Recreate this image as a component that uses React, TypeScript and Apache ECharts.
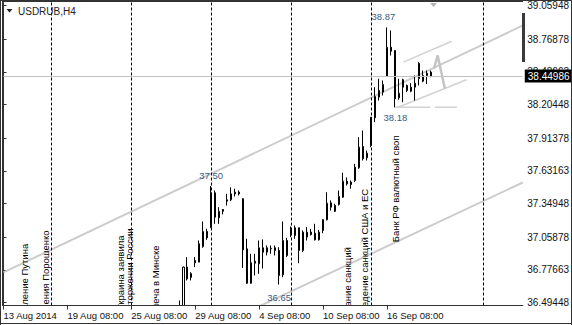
import React, { useEffect, useRef } from 'react';
import * as echarts from 'echarts';

// ---- data ----
const FIRST_BAR = 44;
const opens = [36.38, 36.42, 36.8, 36.711, 36.857, 36.843, 36.978, 37.108, 37.14, 37.442, 37.226, 37.298, 37.37, 37.382, 37.447, 37.447, 37.39, 36.958, 36.661, 36.851, 36.829, 36.967, 36.929, 36.958, 36.967, 36.944, 36.734, 37.03, 37.122, 37.073, 37.14, 36.944, 37.059, 37.102, 37.093, 37.036, 37.117, 37.209, 37.355, 37.332, 37.341, 37.404, 37.542, 37.534, 37.548, 37.658, 37.842, 37.744, 37.851, 38.09, 38.268, 38.311, 38.446, 38.699, 38.671, 38.262, 38.418, 38.369, 38.319, 38.354, 38.559, 38.406, 38.455, 38.484];
const closes = [36.42, 36.8, 36.699, 36.745, 36.838, 37.002, 37.108, 37.053, 37.442, 37.231, 37.281, 37.283, 37.382, 37.433, 37.433, 37.433, 36.95, 36.661, 36.838, 36.834, 36.967, 36.929, 36.967, 36.962, 36.944, 36.728, 37.03, 36.901, 37.082, 37.14, 36.944, 37.102, 37.102, 37.082, 37.036, 37.102, 37.211, 37.352, 37.318, 37.283, 37.41, 37.542, 37.52, 37.514, 37.663, 37.836, 37.736, 37.784, 38.095, 38.274, 38.326, 38.377, 38.699, 38.665, 38.254, 38.302, 38.354, 38.326, 38.354, 38.388, 38.429, 38.455, 38.475, 38.44986];
const lows = [36.35, 36.4, 36.685, 36.685, 36.8, 36.843, 36.967, 37.036, 37.14, 37.174, 37.174, 37.255, 37.332, 37.37, 37.41, 37.419, 36.794, 36.656, 36.656, 36.728, 36.742, 36.788, 36.901, 36.915, 36.901, 36.65, 36.713, 36.886, 37.059, 37.045, 36.834, 36.929, 37.03, 37.073, 37.03, 37.03, 37.093, 37.203, 37.289, 37.275, 37.332, 37.399, 37.505, 37.477, 37.534, 37.649, 37.721, 37.721, 37.836, 38.052, 38.239, 38.282, 38.446, 38.628, 38.18, 38.245, 38.224, 38.311, 38.311, 38.239, 38.369, 38.397, 38.383, 38.44];
const highs = [36.512, 36.805, 36.886, 36.756, 36.886, 37.03, 37.194, 37.131, 37.5, 37.462, 37.318, 37.298, 37.433, 37.49, 37.477, 37.462, 37.395, 37.045, 36.915, 36.915, 37.03, 37.039, 36.987, 36.987, 36.987, 36.972, 37.194, 37.053, 37.151, 37.16, 37.14, 37.117, 37.145, 37.131, 37.174, 37.122, 37.211, 37.447, 37.376, 37.347, 37.462, 37.615, 37.574, 37.548, 37.692, 37.922, 37.98, 37.807, 38.095, 38.354, 38.427, 38.412, 38.87, 38.844, 38.671, 38.427, 38.427, 38.377, 38.388, 38.455, 38.57, 38.498, 38.498, 38.498];

const tickBars = [0, 16, 32, 48, 64, 80, 96];
const tickLabels = ['13 Aug 2014', '19 Aug 08:00', '25 Aug 08:00', '29 Aug 08:00', '4 Sep 08:00', '10 Sep 08:00', '16 Sep 08:00'];
const priceTicks = [39.05948, 38.76878, 38.48663, 38.20448, 37.91378, 37.63163, 37.34948, 37.05878, 36.77663, 36.49448];
const lastPrice = 38.44986;
const separatorBars = [12, 32, 52, 72, 92, 120];

// drawn objects, in [bar, price]
const channelUpper = [[0, 36.755], [130, 38.887]];
const channelLower = [[0, 35.424], [130, 37.531]];
const miniUpper = [[100.1, 38.57], [112.2, 38.751]];
const miniLower = [[98.5, 38.176], [115.9, 38.418]];
const lowLevelA = [[98, 38.18], [106.8, 38.18]];
const lowLevelB = [[108, 38.18], [113.5, 38.18]];
const markStroke = [[107.75, 38.513], [108.7, 38.628], [110.5, 38.34]];

const noteTexts = ['38.87', '37.50', '38.18', '36.65'];
const noteBars = [95.1, 52, 98.1, 69];
const notePrices = [38.9645, 37.594, 38.088, 36.5336];

const eventTexts = ['вление Путина', 'вления Порошенко', 'Украина заявила', 'торжении России', 'неча в Минске', 'ание санкций', 'едение санкций США и ЕС', 'Банк РФ валютный своп'];
const eventBars = [5.25, 10.6, 29.4, 31.6, 38, 86.1, 90.25, 98.2];
const eventTops = [37.0016, 37.1165, 37.0733, 37.1338, 36.987, 36.9723, 37.4766, 37.9369];

const FONT = '"Liberation Sans", Arial, sans-serif';
const GRAY = '#cccccc';

function lineSeries(data: number[][], width: number, color = GRAY) {
  return {
    type: 'line', data, symbol: 'none', silent: true, clip: true, z: 1,
    lineStyle: { color, width }, animation: false,
  };
}

export default function App() {
  const ref = useRef<HTMLDivElement>(null);
  useEffect(() => {
    const chart = echarts.init(ref.current!, null, { renderer: 'svg' });
    const candles = opens.map((o, i) => [FIRST_BAR + i, o, closes[i], lows[i], highs[i]]);
    const option: any = {
      animation: false,
      backgroundColor: '#ffffff',
      grid: { left: 3.5, right: 48.5, top: 2.5, bottom: 19.5, containLabel: false },
      xAxis: {
        type: 'value', min: 0, max: 130, z: 10,
        axisLine: { show: true, lineStyle: { color: '#333', width: 1 } },
        axisTick: { show: true, customValues: tickBars, length: 4, lineStyle: { color: '#333' } },
        axisLabel: {
          customValues: tickBars,
          formatter: (v: number) => { const k = tickBars.indexOf(v); return k >= 0 ? tickLabels[k] : ''; },
          align: 'left', margin: 3.5, lineHeight: 12, fontSize: 9.5, fontFamily: FONT, color: '#111',
        },
        splitLine: { show: false },
      },
      yAxis: {
        type: 'value', position: 'right', min: 36.46857, max: 39.08539,
        axisLine: { show: true, lineStyle: { color: '#333', width: 1 } },
        axisTick: { show: true, customValues: priceTicks, length: 3, lineStyle: { color: '#333' } },
        axisLabel: {
          customValues: priceTicks, formatter: (v: number) => v.toFixed(5),
          margin: 4.5, fontSize: 10, fontFamily: FONT, color: '#111', align: 'left',
        },
        splitLine: { show: false },
      },
      series: [
        lineSeries(channelUpper, 2),
        lineSeries(channelLower, 2),
        lineSeries(miniUpper, 1.5, '#d2d2d2'),
        lineSeries(miniLower, 1.5, '#d2d2d2'),
        lineSeries(lowLevelA, 1.5, '#d2d2d2'),
        lineSeries(lowLevelB, 1.5, '#d2d2d2'),
        lineSeries(markStroke, 2.5, '#c4c4c4'),
        {
          type: 'candlestick',
          data: candles,
          encode: { x: 0, y: [1, 2, 3, 4] },
          barWidth: 2,
          clip: true,
          z: 2,
          itemStyle: { color: '#ffffff', color0: '#000000', borderColor: '#000000', borderColor0: '#000000', borderWidth: 1 },
          markLine: {
            silent: true, symbol: ['none', 'none'], animation: false,
            data: [
              ...separatorBars.map(b => ({ xAxis: b, label: { show: false }, lineStyle: { color: '#000', width: 1, type: [3, 2] } })),
              {
                yAxis: lastPrice,
                lineStyle: { color: '#c0c0c0', width: 1, type: 'solid' },
                label: {
                  show: true, position: 'end', distance: 2, formatter: lastPrice.toFixed(5),
                  backgroundColor: '#000', color: '#fff', padding: [2, 3, 1, 3],
                  fontSize: 10, fontFamily: FONT,
                },
              },
            ],
          },
        },
        {
          type: 'custom', coordinateSystem: 'cartesian2d', clip: true, silent: true, z: 4,
          data: noteBars.map((b, i) => [b, notePrices[i]]),
          encode: { x: 0, y: 1 },
          renderItem: (params: any, api: any) => {
            const p = api.coord([api.value(0), api.value(1)]);
            return {
              type: 'text', x: p[0], y: p[1],
              style: { text: noteTexts[params.dataIndex], fill: '#3d5a80', fontSize: 9.5, fontFamily: FONT, align: 'center', verticalAlign: 'middle' },
            };
          },
        },
        {
          type: 'custom', coordinateSystem: 'cartesian2d', clip: true, silent: true, z: 4,
          data: eventBars.map((b, i) => [b, eventTops[i]]),
          encode: { x: 0, y: 1 },
          renderItem: (params: any, api: any) => {
            const p = api.coord([api.value(0), api.value(1)]);
            return {
              type: 'text', x: p[0], y: p[1], rotation: Math.PI / 2,
              style: { text: eventTexts[params.dataIndex], fill: '#000', fontSize: 9.5, fontFamily: FONT, align: 'right', verticalAlign: 'middle' },
            };
          },
        },
      ],
      graphic: [
        { type: 'rect', z: 5, silent: true, shape: { x: 3, y: 306, width: 520, height: 16 }, style: { fill: '#ffffff' } },
        { type: 'rect', z: 6, silent: true, shape: { x: 522, y: 13, width: 3, height: 49 }, style: { fill: '#3a3a3a' } },
        { type: 'polygon', z: 6, silent: true, shape: { points: [[430, 3], [437, 3], [433.5, 7]] }, style: { fill: '#b4b4b4' } },
        { type: 'polygon', z: 6, silent: true, shape: { points: [[6.5, 9], [12.5, 9], [9.5, 12.5]] }, style: { fill: '#222' } },
        { type: 'text', z: 6, silent: true, x: 18, y: 11, style: { text: 'USDRUB,H4', fill: '#222', fontSize: 10, fontFamily: FONT, verticalAlign: 'middle' } },
        { type: 'line', z: 6, silent: true, shape: { x1: 0, y1: 0.5, x2: 572, y2: 0.5 }, style: { stroke: '#333', lineWidth: 1 } },
        { type: 'line', z: 6, silent: true, shape: { x1: 2, y1: 1.5, x2: 523, y2: 1.5 }, style: { stroke: '#333', lineWidth: 1 } },
        { type: 'line', z: 6, silent: true, shape: { x1: 0.5, y1: 0, x2: 0.5, y2: 325 }, style: { stroke: '#333', lineWidth: 1 } },
        { type: 'line', z: 6, silent: true, shape: { x1: 2.5, y1: 1, x2: 2.5, y2: 306 }, style: { stroke: '#333', lineWidth: 1 } },
        { type: 'line', z: 6, silent: true, shape: { x1: 571.5, y1: 0, x2: 571.5, y2: 325 }, style: { stroke: '#333', lineWidth: 1 } },
        { type: 'line', z: 6, silent: true, shape: { x1: 0, y1: 323.5, x2: 572, y2: 323.5 }, style: { stroke: '#333', lineWidth: 1 } },
      ],
    };
    chart.setOption(option);
    return () => chart.dispose();
  }, []);
  return <div ref={ref} style={{ width: 572, height: 325, position: 'fixed', left: 0, top: 0 }} />;
}
